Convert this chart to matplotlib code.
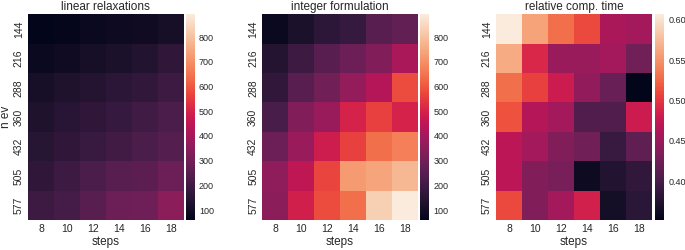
import matplotlib
matplotlib.use("Agg")
import matplotlib.pyplot as plt
import numpy as np
import seaborn as sns

steps = [8, 10, 12, 14, 16, 18]
n_ev = [144, 216, 288, 360, 432, 505, 577]

linear_relax = [
    [60, 68, 80, 88, 95, 110],
    [85, 95, 110, 120, 135, 165],
    [110, 125, 140, 155, 170, 195],
    [125, 150, 165, 180, 200, 225],
    [145, 165, 185, 205, 225, 245],
    [165, 190, 225, 250, 260, 290],
    [190, 210, 250, 290, 295, 350],
]

integer_form = [
    [80, 120, 160, 180, 250, 270],
    [140, 190, 250, 290, 330, 410],
    [170, 250, 300, 370, 430, 580],
    [220, 330, 380, 500, 560, 500],
    [290, 380, 480, 560, 640, 670],
    [360, 450, 570, 720, 740, 780],
    [350, 490, 580, 640, 830, 892],
]

rel_time = [
    [0.607, 0.56, 0.53, 0.51, 0.46, 0.455],
    [0.565, 0.49, 0.45, 0.45, 0.455, 0.425],
    [0.53, 0.505, 0.48, 0.445, 0.42, 0.352],
    [0.515, 0.465, 0.455, 0.405, 0.405, 0.48],
    [0.47, 0.455, 0.435, 0.425, 0.39, 0.415],
    [0.47, 0.435, 0.43, 0.36, 0.375, 0.385],
    [0.51, 0.435, 0.455, 0.485, 0.365, 0.38],
]

sns.set_style("white")
plt.rcParams["font.family"] = ["Liberation Sans", "DejaVu Sans"]

fig = plt.figure(figsize=(6.85, 2.5), dpi=100)


def box(x0, x1, y0=14.3, y1=220):
    # pixel coords -> figure fraction
    return [x0 / 685, 1 - y1 / 250, (x1 - x0) / 685, (y1 - y0) / 250]


panels = [
    ("linear relaxations", linear_relax, 28, 183.7, 185.7, 194.7, 60, 892),
    ("integer formulation", integer_form, 262.3, 417.7, 420, 429.3, 60, 892),
    ("relative comp. time", rel_time, 496, 651.7, 655, 664, 0.352, 0.607),
]

for i, (title, vals, x0, x1, c0, c1, vmin, vmax) in enumerate(panels):
    ax = fig.add_axes(box(x0, x1))
    cax = fig.add_axes(box(c0, c1))
    sns.heatmap(np.array(vals), ax=ax, cbar_ax=cax, vmin=vmin, vmax=vmax,
                xticklabels=steps, yticklabels=n_ev)
    ax.set_title(title, fontsize=8.5, pad=3)
    ax.set_xlabel("steps", fontsize=8.5, labelpad=1)
    if i == 0:
        ax.set_ylabel("n ev", fontsize=8.5, labelpad=1)
    ax.tick_params(axis="both", labelsize=7.5, length=0, pad=3)
    ax.set_yticklabels(n_ev, rotation=90, va="center")
    cax.tick_params(labelsize=6.5, length=0, pad=3)

fig.savefig("out.png", dpi=100)
